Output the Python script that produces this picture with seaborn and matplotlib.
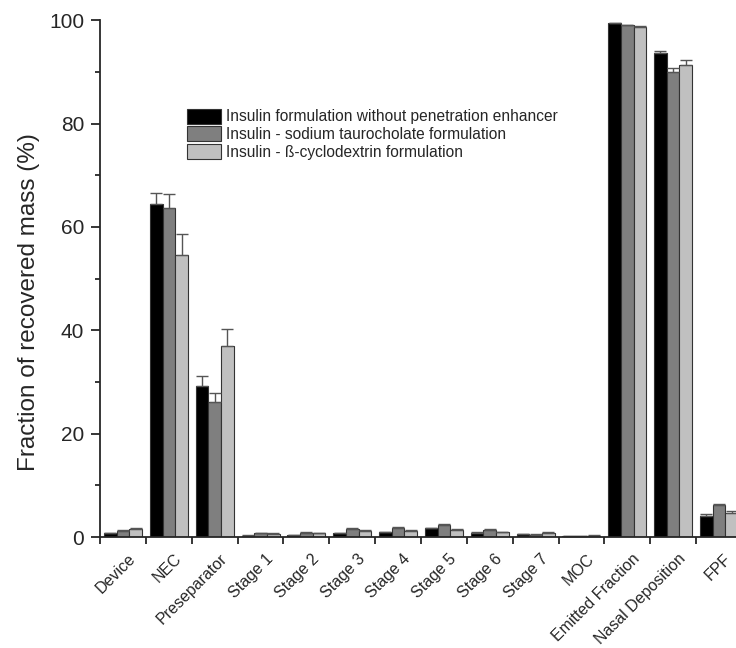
import numpy as np
import pandas as pd
import matplotlib
matplotlib.use('Agg')
import matplotlib.pyplot as plt
import matplotlib.transforms as mtransforms
import seaborn as sns

# categories and series
stages = ['Device', 'NEC', 'Preseparator', 'Stage 1', 'Stage 2', 'Stage 3', 'Stage 4',
          'Stage 5', 'Stage 6', 'Stage 7', 'MOC', 'Emitted Fraction', 'Nasal Deposition', 'FPF']
formulations = ['Insulin formulation without penetration enhancer',
                'Insulin - sodium taurocholate formulation',
                'Insulin - ß-cyclodextrin formulation']

no_enhancer = [0.8, 64.4, 29.3, 0.3, 0.4, 0.8, 1.0, 1.7, 0.9, 0.6, 0.2, 99.4, 93.6, 4.1]
taurocholate = [1.2, 63.6, 26.2, 0.8, 0.9, 1.6, 1.8, 2.4, 1.4, 0.5, 0.15, 99.0, 89.9, 6.2]
cyclodextrin = [1.6, 54.5, 36.9, 0.7, 0.8, 1.2, 1.2, 1.4, 1.0, 0.9, 0.3, 98.7, 91.4, 4.7]

no_enhancer_err = [0.1, 2.1, 1.8, 0.05, 0.05, 0.1, 0.1, 0.1, 0.1, 0.05, 0.05, 0.1, 0.5, 0.3]
taurocholate_err = [0.1, 2.7, 1.7, 0.05, 0.05, 0.1, 0.1, 0.1, 0.1, 0.05, 0.05, 0.1, 0.9, 0.3]
cyclodextrin_err = [0.1, 4.1, 3.3, 0.05, 0.05, 0.1, 0.1, 0.1, 0.1, 0.05, 0.05, 0.1, 0.9, 0.4]

colors = ['#000000', '#7f7f7f', '#c0c0c0']

df = pd.DataFrame({
    'Stage': stages * 3,
    'Formulation': np.repeat(formulations, len(stages)),
    'Value': no_enhancer + taurocholate + cyclodextrin,
})
errs = [no_enhancer_err, taurocholate_err, cyclodextrin_err]

sns.set_style('ticks')
plt.rcParams['font.family'] = ['Liberation Sans', 'DejaVu Sans']

fig = plt.figure(figsize=(7.36, 6.48), dpi=100)
ax = fig.add_axes([0.136, 0.171, 0.872, 0.798])

sns.barplot(data=df, x='Stage', y='Value', hue='Formulation', order=stages,
            hue_order=formulations, palette=colors, errorbar=None, width=0.83,
            edgecolor='#333333', linewidth=0.8, ax=ax)

# one-sided error bars on top of each bar
for cont, err in zip(ax.containers, errs):
    xs = [p.get_x() + p.get_width() / 2 for p in cont]
    hs = [p.get_height() for p in cont]
    ax.errorbar(xs, hs, yerr=[np.zeros(len(err)), err], fmt='none',
                ecolor='#555555', elinewidth=1, capsize=4.5, capthick=1, zorder=1)

ax.set_xlim(-0.5, len(stages) - 0.5)
ax.set_ylim(0, 100)
ax.set_yticks([0, 20, 40, 60, 80, 100])
ax.set_yticks([10, 30, 50, 70, 90], minor=True)
ax.set_xticks(np.arange(len(stages) + 1) - 0.5, minor=True)
ax.tick_params(axis='x', which='major', length=0, pad=10)
ax.tick_params(axis='x', which='minor', length=5, width=1.3, direction='out')
ax.tick_params(axis='y', which='major', length=6.5, width=1.3, labelsize=15, pad=5)
ax.tick_params(axis='y', which='minor', length=3.5, width=1.3)
ax.set_xticklabels(stages, rotation=45, ha='right', rotation_mode='anchor', fontsize=11.5)
shift = mtransforms.ScaledTranslation(3.5 / 72, 0, fig.dpi_scale_trans)
for lab in ax.get_xticklabels():
    lab.set_transform(lab.get_transform() + shift)

ax.set_xlabel('')
ax.set_ylabel('Fraction of recovered mass (%)', fontsize=17.5)
ax.yaxis.set_label_coords(-0.094, 0.455)
for s in ['left', 'bottom']:
    ax.spines[s].set_linewidth(1.3)
sns.despine(ax=ax)

ax.legend(loc='upper left', bbox_to_anchor=(0.245, 0.842), bbox_transform=fig.transFigure,
          frameon=False, fontsize=11.2, handlelength=2.2, handleheight=1.1,
          handletextpad=0.35, labelspacing=0.12, borderaxespad=0)

fig.savefig('out.png', dpi=100)
